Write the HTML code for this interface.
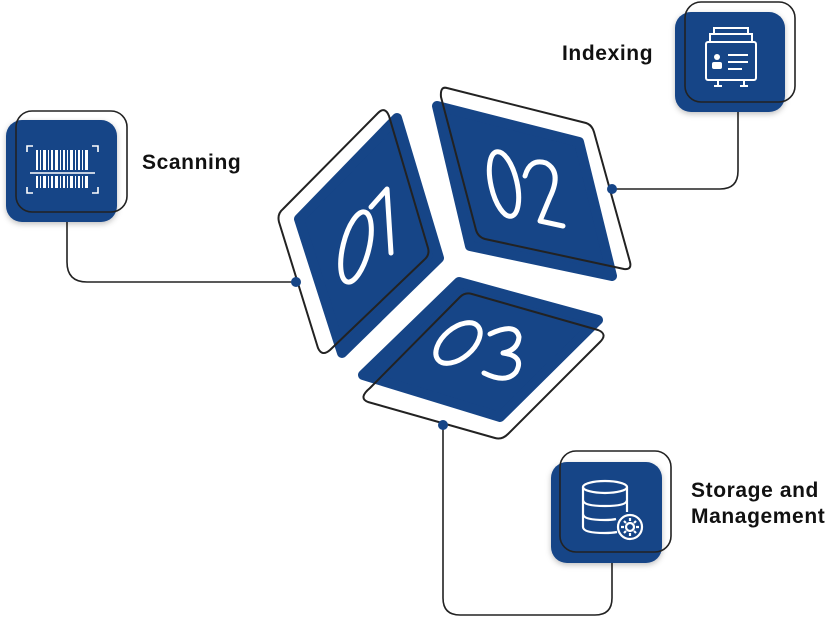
<!DOCTYPE html>
<html><head><meta charset="utf-8"><style>
html,body{margin:0;padding:0;background:#fff;}
svg{display:block;}
text{font-family:"Liberation Sans",sans-serif;}
</style></head><body>
<svg width="831" height="618" viewBox="0 0 831 618" xmlns="http://www.w3.org/2000/svg">
<defs>
<filter id="sh" x="-20%" y="-20%" width="150%" height="150%"><feDropShadow dx="0" dy="2" stdDeviation="3" flood-color="#000" flood-opacity="0.25"/></filter>
</defs>
<g fill="none" stroke="#222" stroke-width="1.6">
<path d="M67 218 V262 Q67 282 87 282 H296"/>
<path d="M738 100 V171 Q738 189 720 189 H612"/>
<path d="M443 425 V598 Q443 615 460 615 H595 Q612 615 612 598 V548"/>
</g>
<g fill="#164587" stroke="#164587" stroke-width="10" stroke-linejoin="round">
<polygon points="299,219 397,118 439,258 342,353"/>
<polygon points="437,106 579,142 612,276 470,246"/>
<polygon points="363,375 459,282 598,320 500,417"/>
</g>
<g fill="none" stroke="#222" stroke-width="2" stroke-linejoin="round">
<path d="M283,209 L378,113 Q385,106 389,116 L428,248 Q430,255 424,260 L330,350 Q322,357 318,348 L279,222 Q277,214 283,209 Z"/>
<path d="M447,88 L586,123 Q592,125 594,132 L630,262 Q632,270 624,269 L485,239 Q478,237 476,230 L441,97 Q440,86 447,88 Z"/>
<path d="M370,388 L460,297 Q465,292 472,294 L598,330 Q608,334 600,342 L508,434 Q502,440 495,438 L368,402 Q358,398 370,388 Z"/>
</g>
<g fill="#164587"><circle cx="296" cy="282" r="5"/><circle cx="612" cy="189" r="5"/><circle cx="443" cy="425" r="5"/></g>
<g fill="none" stroke="#fff" stroke-width="5" stroke-linecap="round" stroke-linejoin="round">
<ellipse cx="356" cy="247" rx="13" ry="36" transform="rotate(14 356 247)"/>
<path d="M371 207 L387 189 L391 253"/>
<ellipse cx="504" cy="184" rx="13" ry="33" transform="rotate(-13 504 184)"/>
<path d="M525 176 Q530 158 546 163 Q562 172 550 197 L540 221 L563 226"/>
<ellipse cx="458" cy="343" rx="15" ry="26" transform="rotate(50 458 343)"/>
<path d="M490 334 Q516 322 519 337 Q518 350 503 353 Q525 356 516 372 Q506 384 484 373"/>
</g>
<g fill="#164587" filter="url(#sh)">
<rect x="6" y="120" width="111" height="102" rx="16"/>
<rect x="675" y="12" width="110" height="100" rx="16"/>
<rect x="551" y="462" width="111" height="101" rx="16"/>
</g>
<g fill="none" stroke="#222" stroke-width="1.6">
<rect x="16" y="111" width="111" height="101" rx="16"/>
<rect x="685" y="2" width="110" height="100" rx="16"/>
<rect x="560" y="451" width="111" height="101" rx="16"/>
</g>
<g stroke="#fff" stroke-width="1.6" fill="none">
<path d="M27 152 V146 H33 M92 146 H98 V152 M27 187 V193 H33 M92 193 H98 V187"/>
<line x1="30" y1="173" x2="95" y2="173"/>
</g>
<g fill="#fff">
<rect x="36" y="150" width="2" height="20"/><rect x="40" y="150" width="1" height="20"/><rect x="43" y="150" width="3" height="20"/><rect x="48" y="150" width="1" height="20"/><rect x="51" y="150" width="2" height="20"/><rect x="55" y="150" width="3" height="20"/><rect x="60" y="150" width="1" height="20"/><rect x="63" y="150" width="2" height="20"/><rect x="67" y="150" width="1" height="20"/><rect x="70" y="150" width="3" height="20"/><rect x="75" y="150" width="1" height="20"/><rect x="78" y="150" width="2" height="20"/><rect x="82" y="150" width="1" height="20"/><rect x="85" y="150" width="3" height="20"/>
<rect x="36" y="176" width="2" height="12"/><rect x="40" y="176" width="1" height="12"/><rect x="43" y="176" width="3" height="12"/><rect x="48" y="176" width="1" height="12"/><rect x="51" y="176" width="2" height="12"/><rect x="55" y="176" width="3" height="12"/><rect x="60" y="176" width="1" height="12"/><rect x="63" y="176" width="2" height="12"/><rect x="67" y="176" width="1" height="12"/><rect x="70" y="176" width="3" height="12"/><rect x="75" y="176" width="1" height="12"/><rect x="78" y="176" width="2" height="12"/><rect x="82" y="176" width="1" height="12"/><rect x="85" y="176" width="3" height="12"/>
</g>
<g stroke="#fff" stroke-width="2" fill="none">
<rect x="706" y="42" width="50" height="38" rx="2"/>
<path d="M710 42 V34 H752 V42 M714 34 V28 H748 V34"/>
<line x1="728" y1="55" x2="748" y2="55"/><line x1="728" y1="62" x2="748" y2="62"/><line x1="728" y1="69" x2="742" y2="69"/>
<path d="M718 80 V86 M714 86 H722 M744 80 V86 M740 86 H748"/>
</g>
<g fill="#fff"><circle cx="717" cy="57" r="3"/><rect x="712" y="62" width="10" height="7" rx="2"/></g>
<g stroke="#fff" stroke-width="2.2" fill="none">
<ellipse cx="605" cy="487" rx="22" ry="6"/>
<path d="M583 487 V527 Q583 533 605 533 Q612 533 617 532"/>
<path d="M627 487 V512"/>
<path d="M583 500 Q583 506 605 506 Q627 506 627 500"/>
<path d="M583 514 Q583 520 605 520 Q612 520 616 519"/>
<circle cx="630" cy="527" r="12"/>
<circle cx="630" cy="527" r="4"/>
<path d="M630 518 V521 M630 533 V536 M621 527 H624 M636 527 H639 M624 521 L626 523 M634 531 L636 533 M636 521 L634 523 M624 533 L626 531"/>
</g>
<g font-weight="bold" font-size="21" fill="#111" letter-spacing="0.6">
<text x="142" y="169">Scanning</text>
<text x="562" y="60">Indexing</text>
<text x="691" y="497">Storage and</text>
<text x="691" y="523">Management</text>
</g>
</svg>
</body></html>
